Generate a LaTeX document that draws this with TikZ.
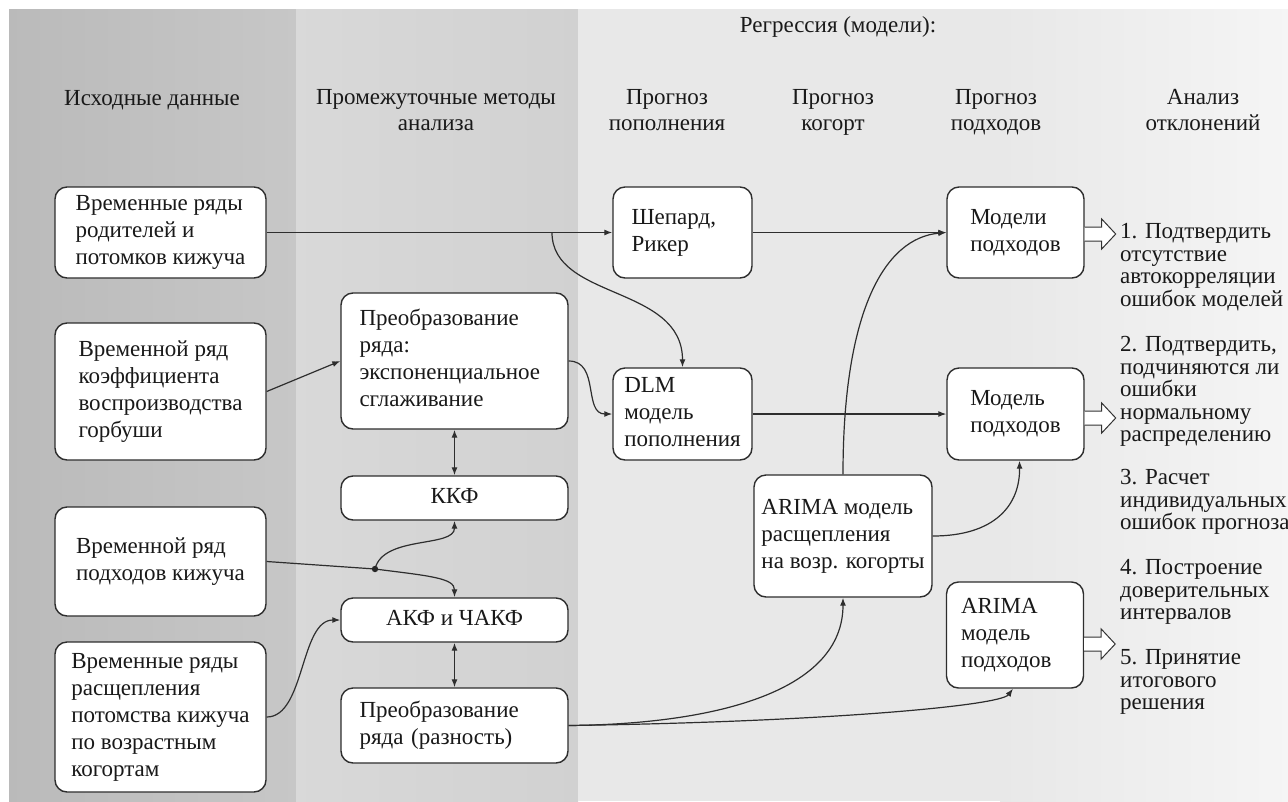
\documentclass[tikz,border=0pt]{standalone}
\usepackage{fontspec}
\setmainfont{Liberation Serif}
\usetikzlibrary{arrows.meta,calc}
\newcommand{\st}{\strut}
\begin{document}
\begin{tikzpicture}[x=1pt,y=-1pt,
  box/.style={draw=black!82, line width=1.4pt, rounded corners=12pt, fill=white, align=left, inner sep=0pt, font=\fontsize{23}{27}\selectfont, text=black!90},
  conn/.style={draw=black!82, line width=1.2pt, -{Latex[length=8pt,width=6pt]}},
  dconn/.style={draw=black!82, line width=1.2pt, {Latex[length=8pt,width=6pt]}-{Latex[length=8pt,width=6pt]}},
  hdr/.style={font=\fontsize{23}{26}\selectfont, align=center, text=black!90, inner sep=0pt},
  note/.style={font=\fontsize{23}{22.5}\selectfont, align=left, anchor=west, text=black!90, inner sep=0pt},
  hollow/.style={draw=black!80, line width=1pt, fill=white},
  hollowarrow/.pic={\path[hollow] (0,-7) -- (17,-7) -- (17,-15) -- (31,0) -- (17,15) -- (17,7) -- (0,7);}
]
% background
\fill[white] (0,0) rectangle (1288,801);
\useasboundingbox (0,0) rectangle (1288,801);
\shade[left color=black!27, right color=black!22] (9,9) rectangle (296,801);
\shade[left color=black!15, right color=black!18] (296,9) rectangle (578,801);
\fill[black!9] (578,9) rectangle (1000,801);
\shade[left color=black!9, right color=black!4] (1000,9) rectangle (1288,801);

% headers
\node[hdr] (h0) at (838,27) {\st Регрессия (модели):\st};
\node[hdr] (h1) at (152,100) {\st Исходные данные\st};
\node[hdr] (h2) at (436,112.5) {\st Промежуточные методы\\анализа\st};
\node[hdr] (h3) at (667,112.5) {\st Прогноз\\пополнения\st};
\node[hdr] (h4) at (833,112.5) {\st Прогноз\\когорт\st};
\node[hdr] (h5) at (996,112.5) {\st Прогноз\\подходов\st};
\node[hdr] (h6) at (1203,112.5) {\st Анализ\\отклонений\st};

% column 1
\node[box, minimum width=211pt, minimum height=91pt] (b1) at (160.5,232.5) {\st Временные ряды\\родителей и\\потомков кижуча\st};
\node[box, minimum width=211pt, minimum height=137pt] (b2) at (160.5,391.5) {\st Временной ряд\\коэффициента\\воспроизводства\\горбуши\st};
\node[box, minimum width=211pt, minimum height=109pt] (b3) at (160.5,561.5) {\st Временной ряд\\подходов кижуча\st};
\node[box, minimum width=211pt, minimum height=150pt] (b4) at (160.5,717) {\st Временные ряды\\расщепления\\потомства кижуча\\по возрастным\\когортам\st};

% column 2
\node[box, minimum width=227pt, minimum height=136pt, text width=190pt] (t1) at (454.5,361) {\st Преобразование\\ряда:\\экспоненциальное\\сглаживание\st};
\node[box, minimum width=227pt, minimum height=44pt, align=center] (kkf) at (454.5,498) {\st ККФ\st};
\node[box, minimum width=227pt, minimum height=44pt, align=center] (akf) at (454.5,620) {\st АКФ и ЧАКФ\st};
\node[box, minimum width=227pt, minimum height=75pt, text width=190pt] (rz) at (454.5,725.5) {\st Преобразование\\ряда (разность)\st};

% column 3
\node[box, minimum width=139pt, minimum height=91pt, text width=102pt] (sh) at (682.5,232.5) {\st Шепард,\\Рикер\st};
\node[box, minimum width=139pt, minimum height=92pt] (dlm) at (682.5,414) {\st DLM\\модель\\пополнения\st};
\node[box, minimum width=178pt, minimum height=122pt] (arc) at (843,536) {\st ARIMA модель\\расщепления\\на возр. когорты\st};

% column 4
\node[box, minimum width=137pt, minimum height=91pt] (m1) at (1015.5,232.5) {\st Модели\\подходов\st};
\node[box, minimum width=137pt, minimum height=92pt] (m2) at (1015.5,414) {\st Модель\\подходов\st};
\node[box, minimum width=137pt, minimum height=106pt, text width=108pt] (m3) at (1015,635) {\st ARIMA\\модель\\подходов\st};

% notes
\node[note] (n1) at (1120,268) {\st 1. Подтвердить\\отсутствие\\автокорреляции\\ошибок моделей\st};
\node[note] (n2) at (1120,392) {\st 2. Подтвердить,\\подчиняются ли\\ошибки\\нормальному\\распределению\st};
\node[note] (n3) at (1120,502.5) {\st 3. Расчет\\индивидуальных\\ошибок прогноза\st};
\node[note] (n4) at (1120,592.5) {\st 4. Построение\\доверительных\\интервалов\st};
\node[note] (n5) at (1120,682.5) {\st 5. Принятие\\итогового\\решения\st};

% hollow arrows
\pic at ([yshift=-1.5pt]m1.east) {hollowarrow};
\pic at ([yshift=-4pt]m2.east) {hollowarrow};
\pic at ([yshift=-9pt]m3.east) {hollowarrow};

% connectors
\coordinate (br) at (552,232.5);
\coordinate (dot) at (375,569);
\draw[conn] (b1.east) -- (sh.west);
\draw[conn] (br) .. controls (552,300) and (682.5,285) .. (dlm.north);
\draw[conn] (sh.east) -- (m1.west);
\draw[conn] (b2.east) -- (t1.west);
\draw[conn] (t1.east) .. controls (600,361) and (583,414) .. (dlm.west);
\draw[conn] (dlm.east) -- (m2.west);
\draw[dconn] (t1.south) -- (kkf.north);
\draw[conn] (b3.east) -- (dot) .. controls (430,576) and (454.5,578) .. (akf.north);
\draw[conn] (dot) .. controls (383,535) and (454.5,548) .. (kkf.south);
\fill[black!85] (dot) circle (3.2pt);
\draw[conn] (b4.east) .. controls (305,717) and (300,620) .. (akf.west);
\draw[dconn] (akf.south) -- (rz.north);
\draw[conn] (rz.east) .. controls (720,724) and (843,690) .. (arc.south);
\draw[conn] (rz.east) .. controls (820,722) and (1000,706) .. ([xshift=-2pt]m3.south);
\draw[conn] (arc.north) .. controls (843,310) and (885,238) .. (m1.west);
\draw[conn] (arc.east) .. controls (995,536) and (1020,505) .. ([xshift=4pt]m2.south);
\end{tikzpicture}
\end{document}
